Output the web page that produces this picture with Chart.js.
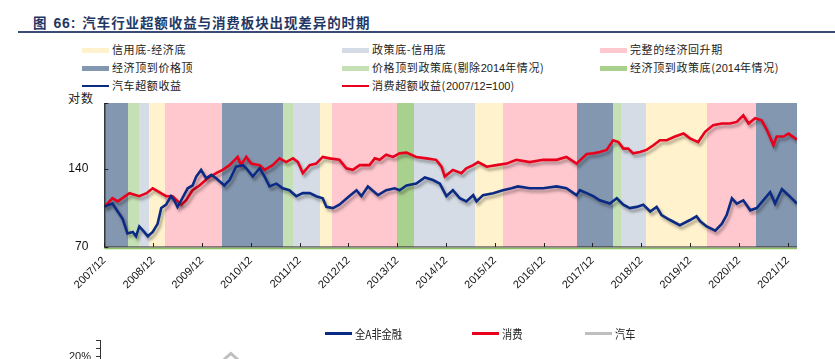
<!DOCTYPE html>
<html><head><meta charset="utf-8">
<script src="https://cdn.jsdelivr.net/npm/chart.js@4/dist/chart.umd.min.js"></script>
<style>
html,body{margin:0;padding:0;width:835px;height:359px;overflow:hidden;background:#fff;}
#wrap{position:relative;width:835px;height:359px;overflow:hidden;}
canvas{position:absolute;left:0;}
#title{position:absolute;left:33px;top:12px;font:bold 13.5px "Noto Sans CJK SC";color:#1f3864;letter-spacing:0.9px;white-space:nowrap;}
#title .num{font-family:"Liberation Sans";font-weight:bold;font-size:14px;margin:0 6px 0 6px;}
#rule{position:absolute;left:18px;top:31px;width:817px;height:2px;background:#3b4a77;}
.lg{position:absolute;font:11px "Noto Sans CJK SC";color:#222;white-space:nowrap;letter-spacing:0.6px;line-height:14px;}
.lg .n{font-family:"Liberation Sans";letter-spacing:0;}
.sw{position:absolute;}
#logLbl{position:absolute;left:68px;top:89px;font:12px "Noto Sans CJK SC";color:#222;letter-spacing:1px;}
.blg{position:absolute;top:325px;font:12px "Noto Sans CJK SC";color:#222;white-space:nowrap;transform:scaleX(0.85);transform-origin:left center;}
</style></head>
<body><div id="wrap">
<div id="title">图<span class="num">66:</span>汽车行业超额收益与消费板块出现差异的时期</div>
<div id="rule"></div>
<div id="legend"></div>
<div id="logLbl">对数</div>
<canvas id="c1" width="835" height="300" style="top:0"></canvas>
<canvas id="c2" width="835" height="130" style="top:318px"></canvas>
<div id="blegend"></div>
</div>
<script>
// ---------------- DATA ----------------
// x values: months since 2007/12 ; y values: index (2007/12 = 100), log axis
const carMonths = [0,1.2,2.0,3.3,4.5,5.7,7.0,7.8,8.6,9.8,10.7,11.9,13.1,14.0,15.2,16.4,17.2,18.0,18.9,20.5,21.7,22.6,23.8,25.0,26.3,27.5,29.5,30.8,32.4,34.1,34.9,36.5,38.2,39.4,40.6,42.3,43.9,45.5,47.2,48.8,50.5,52.1,53.7,54.6,56.2,57.8,60.2,62.0,63.2,64.8,67.3,69.3,71.4,72.6,74.3,76.7,78.8,80.8,82.5,84.1,85.7,87.4,89.0,90.7,91.5,93.1,95.6,98.0,100.1,101.7,104.6,107.9,111.2,113.6,116.1,116.9,118.6,120.2,121.8,124.3,126.0,127.6,129.2,130.9,132.5,134.2,135.8,137.0,139.1,141.5,144.0,145.6,146.5,148.1,150.2,151.8,153.0,154.3,155.5,157.1,158.8,160.4,162.0,163.7,164.9,166.6,168.2,170.3];
const carValues = [100,102,103,96,90,79,80,77,84,80,77,80,86,99,102,110,106,100,106,118,121,131,139,129,133,129,121,127,143,145,141,131,141,131,120,123,118,116,110,113,113,110,108,100,99,102,110,116,110,120,111,116,118,116,121,123,130,127,123,110,116,108,105,111,105,111,113,116,118,120,118,118,120,118,111,116,113,110,106,103,108,102,99,100,102,96,100,93,89,85,89,92,88,84,81,86,93,108,103,106,97,99,106,114,103,117,111,103];

const consMonths = [0,2.0,3.3,6.2,8.6,10.4,11.9,13.5,15.2,16.8,18.9,20.1,21.7,23.4,25.4,27.5,29.1,30.8,32.8,33.6,34.9,36.1,38.2,39.4,41.4,43.1,44.7,46.4,47.6,48.8,50.5,52.1,53.7,55.4,57.8,59.5,61.1,62.8,65.2,66.5,67.7,69.3,71.0,72.6,74.3,76.7,79.2,81.6,82.9,83.7,85.7,87.8,89.0,90.7,91.9,94.0,96.4,98.9,101.3,104.6,107.9,111.2,113.6,116.1,118.6,120.2,121.8,123.5,125.1,126.4,127.6,128.8,130.0,131.7,133.3,135.0,136.6,138.3,140.3,142.4,144.0,146.0,147.7,149.7,151.8,153.8,155.5,157.1,158.4,160.0,161.6,162.9,164.5,165.3,167.0,168.2,170.3];
const consValues = [100,108,105,113,110,113,118,114,110,110,102,106,116,121,129,135,139,145,156,145,156,147,145,139,145,154,149,154,149,135,145,147,156,154,152,141,139,145,145,154,152,159,156,161,162,156,154,152,143,131,139,135,141,145,149,143,145,147,152,149,152,152,156,147,160,161,163,166,181,178,168,168,161,163,166,173,181,181,187,192,184,178,195,207,210,210,213,226,210,220,216,198,173,187,187,192,182];

const seriesNames = ['汽车超额收益','消费超额收益(2007/12=100)'];

// economic-cycle periods (months since 2007/12)
const periodNames = ['信用底-经济底','政策底-信用底','完整的经济回升期','经济顶到价格顶','价格顶到政策底(剔除2014年情况)','经济顶到政策底(2014年情况)'];
const periodStart = [0,5.9,8.5,10.9,15.0,28.9,44.0,46.3,53.0,56.0,72.0,76.1,91.1,98.0,116.1,125.0,127.0,133.2,148.2,160.2];
const periodEnd   = [5.9,8.5,10.9,15.0,28.9,44.0,46.3,53.0,56.0,72.0,76.1,91.1,98.0,116.1,125.0,127.0,133.2,148.2,160.2,170.3];
const periodType  = [3,4,1,0,2,3,4,1,0,2,5,1,0,2,3,4,1,0,2,3];

const yTicks = [70,140];
const xTickMonths = [0,12,24,36,48,60,72,84,96,108,120,132,144,156,168];
const xTickLabels = ['2007/12','2008/12','2009/12','2010/12','2011/12','2012/12','2013/12','2014/12','2015/12','2016/12','2017/12','2018/12','2019/12','2020/12','2021/12'];

// lower (cut-off) chart
const lowerNames = ['全A非金融','消费','汽车'];
const lowerCarX = [15.0,18.7,22.4];
const lowerCarY = [15,20.8,15];
const lowerTicks = [20,22,24];

// ---------------- STYLE ----------------
const periodColors = ['#fff2cc','#d6dce5','#ffc7ce','#8497b0','#c5e0b4','#a9d18e'];
const seriesColors = ['#0b2a84','#e8001c'];
const lowerColors = ['#0b2a84','#e8001c','#bfbfbf'];

// ---------------- LEGEND (HTML) ----------------
(function(){
  const lg = document.getElementById('legend');
  const colX = [82,342,600];
  const rowY = [50,68,86];
  const items = [];
  periodNames.forEach((n,i)=>items.push({name:n,color:periodColors[i],type:'band'}));
  seriesNames.forEach((n,i)=>items.push({name:n,color:seriesColors[i],type:'line'}));
  items.forEach((it,i)=>{
    const c = i%3, r = Math.floor(i/3);
    const sw = document.createElement('div');
    sw.className='sw';
    const h = it.type==='band'?5:2.5;
    sw.style.cssText=`left:${colX[c]}px;top:${rowY[r]-h/2}px;width:27px;height:${h}px;background:${it.color}`;
    lg.appendChild(sw);
    const t = document.createElement('div');
    t.className='lg';
    t.style.left=(colX[c]+30)+'px';
    t.style.top=(rowY[r]-8)+'px';
    t.innerHTML = it.name.replace(/([0-9\/=]+)/g,'<span class="n">$1</span>');
    lg.appendChild(t);
  });
  const bl = document.getElementById('blegend');
  const bx = [325,472,585];
  lowerNames.forEach((n,i)=>{
    const sw = document.createElement('div');
    sw.className='sw';
    sw.style.cssText=`left:${bx[i]}px;top:${332}px;width:27px;height:3px;background:${lowerColors[i]}`;
    bl.appendChild(sw);
    const t = document.createElement('div');
    t.className='blg';
    t.style.left=(bx[i]+30)+'px';
    t.textContent=n;
    bl.appendChild(t);
  });
})();

// ---------------- PLUGINS ----------------
const bandsPlugin = {
  id:'bands',
  beforeDatasetsDraw(chart){
    const {ctx, chartArea:a, scales:{x}} = chart;
    ctx.save();
    periodStart.forEach((s,i)=>{
      const x0 = Math.round(x.getPixelForValue(s));
      const x1 = Math.round(x.getPixelForValue(periodEnd[i]));
      ctx.fillStyle = periodColors[periodType[i]];
      ctx.fillRect(x0, a.top, x1-x0, a.bottom-a.top);
    });
    ctx.restore();
  },
  afterDatasetsDraw(chart){
    const {ctx, chartArea:a, scales:{x,y}} = chart;
    ctx.save();
    ctx.strokeStyle='#222'; ctx.lineWidth=1.2;
    ctx.beginPath();
    ctx.moveTo(a.left+0.5,a.top); ctx.lineTo(a.left+0.5,a.bottom);
    ctx.stroke();
    ctx.beginPath(); ctx.moveTo(a.left,a.bottom); ctx.lineTo(a.right,a.bottom); ctx.stroke();
    ctx.strokeStyle='#8cc063'; ctx.lineWidth=1.5;
    ctx.beginPath(); ctx.moveTo(a.left,a.bottom+1.5); ctx.lineTo(a.right,a.bottom+1.5); ctx.stroke();
    ctx.strokeStyle='#222'; ctx.lineWidth=1;
    xTickMonths.forEach(m=>{
      const px = Math.round(x.getPixelForValue(m))+0.5;
      ctx.beginPath(); ctx.moveTo(px,a.bottom); ctx.lineTo(px,a.bottom-4); ctx.stroke();
    });
    yTicks.concat([y.max]).forEach(v=>{
      const py = Math.round(y.getPixelForValue(v))+0.5;
      ctx.beginPath(); ctx.moveTo(a.left,py); ctx.lineTo(a.left+4,py); ctx.stroke();
    });
    ctx.restore();
  },
  beforeDatasetDraw(chart){
    const ctx=chart.ctx; ctx.save();
    ctx.shadowColor='rgba(0,0,0,0.35)'; ctx.shadowBlur=3; ctx.shadowOffsetX=2; ctx.shadowOffsetY=3;
  },
  afterDatasetDraw(chart){ chart.ctx.restore(); }
};

const toXY = (xs,ys)=>xs.map((v,i)=>({x:v,y:ys[i]}));

new Chart(document.getElementById('c1'),{
  type:'line',
  data:{datasets:[
    {label:seriesNames[0],data:toXY(carMonths,carValues),borderColor:seriesColors[0],borderWidth:2.6,pointRadius:0,tension:0,fill:false},
    {label:seriesNames[1],data:toXY(consMonths,consValues),borderColor:seriesColors[1],borderWidth:2.6,pointRadius:0,tension:0,fill:false}
  ]},
  options:{
    responsive:false, animation:false, devicePixelRatio:1,
    layout:{padding:{left:0,top:103,right:38,bottom:0}},
    plugins:{legend:{display:false},tooltip:{enabled:false}},
    scales:{
      x:{type:'linear',min:0,max:170.3,
        afterBuildTicks:s=>{s.ticks=xTickMonths.map(v=>({value:v}));},
        afterFit:s=>{s.height=53;},
        grid:{display:false,drawTicks:false},border:{display:false},
        ticks:{autoSkip:false,maxRotation:45,minRotation:45,padding:7,color:'#111',
          font:{family:'Liberation Sans',size:11},
          callback:(v)=>{const i=xTickMonths.indexOf(v);return i>=0?xTickLabels[i]:'';}}
      },
      y:{type:'logarithmic',min:70,max:252,
        afterBuildTicks:s=>{s.ticks=yTicks.map(v=>({value:v}));},
        afterFit:s=>{s.width=104.3;},
        grid:{display:false,drawTicks:false},border:{display:false},
        ticks:{padding:16,color:'#111',font:{family:'Liberation Sans',size:12},callback:v=>String(v)}
      }
    }
  },
  plugins:[bandsPlugin]
});

new Chart(document.getElementById('c2'),{
  type:'line',
  data:{datasets:[
    {label:lowerNames[2],data:toXY(lowerCarX,lowerCarY),borderColor:lowerColors[2],borderWidth:3,pointRadius:0,tension:0}
  ]},
  options:{
    responsive:false, animation:false, devicePixelRatio:1,
    layout:{padding:{left:0,top:22.7,right:35,bottom:11.5}},
    plugins:{legend:{display:false},tooltip:{enabled:false}},
    scales:{
      x:{type:'linear',min:0,max:100,display:false},
      y:{type:'linear',min:0,max:24,
        afterBuildTicks:s=>{s.ticks=lowerTicks.map(v=>({value:v}));},
        afterFit:s=>{s.width=100;},
        grid:{drawOnChartArea:false,tickLength:4,color:'#333'},
        border:{display:true,color:'#333',width:1},
        ticks:{autoSkip:false,padding:5,color:'#222',font:{family:'Liberation Sans',size:11},
          callback:v=>(v%10===0?v+'%':'')}
      }
    }
  }
});
</script>
</body></html>
